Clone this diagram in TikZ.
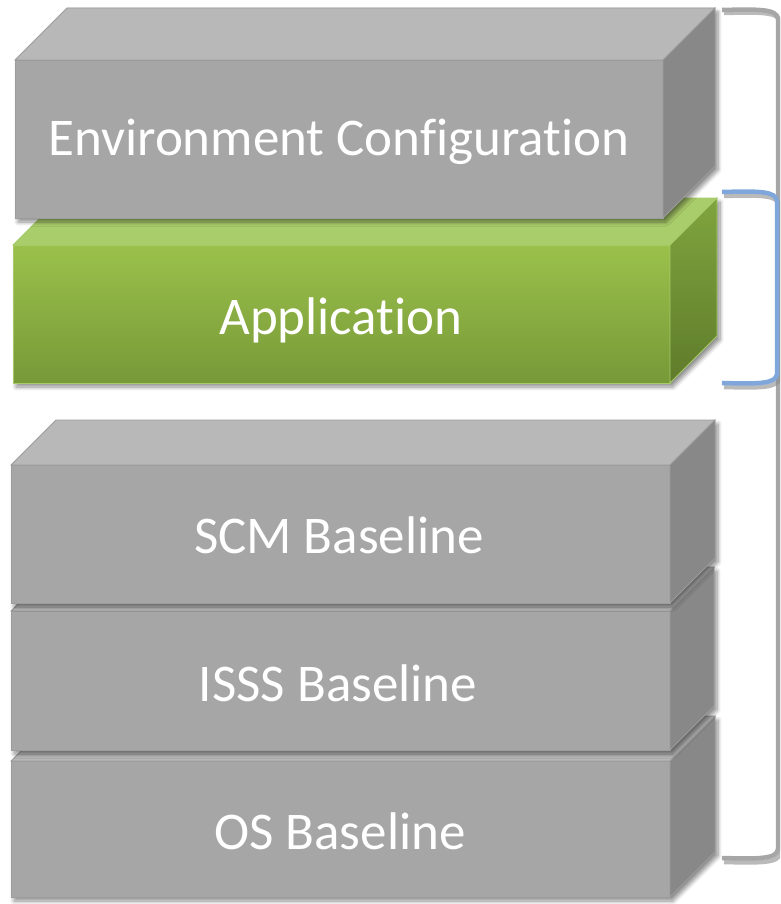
\documentclass[tikz,border=0pt]{standalone}
\usepackage{fontspec}
\setmainfont{Carlito}[Ligatures={NoCommon}]
\usetikzlibrary{shadows.blur}

\definecolor{grayfront}{HTML}{A6A6A6}
\definecolor{graytop}{HTML}{B8B8B8}
\definecolor{grayside}{HTML}{888888}
\definecolor{grayedge}{HTML}{9C9C9C}
\definecolor{greentop}{HTML}{AACD6B}
\definecolor{greenfronttop}{HTML}{9BC14B}
\definecolor{greenfrontbot}{HTML}{779938}
\definecolor{greensidetop}{HTML}{80A43E}
\definecolor{greensidebot}{HTML}{5F7C2B}
\definecolor{greenedge}{HTML}{A8CB6A}
\definecolor{bracegray}{HTML}{A6A6A6}
\definecolor{braceblue}{HTML}{7FA7DC}
\definecolor{braceshade}{HTML}{8C8C8C}

\tikzset{
  blockshadow/.style={blur shadow={shadow xshift=3pt, shadow yshift=-4pt,
      shadow blur radius=4pt, shadow blur steps=8, shadow opacity=45}},
  grayfrontface/.style={fill=grayfront, draw=grayedge, line width=0.8pt},
  graytopface/.style={fill=graytop, draw=grayedge, line width=0.8pt},
  graysideface/.style={fill=grayside, draw=grayedge, line width=0.8pt},
  greenfrontface/.style={top color=greenfronttop, bottom color=greenfrontbot,
      draw=greenedge, line width=0.8pt},
  greentopface/.style={fill=greentop, draw=greenedge, line width=0.8pt},
  greensideface/.style={top color=greensidetop, bottom color=greensidebot,
      draw=greenedge, line width=0.8pt},
  layertext/.style={text=white, font=\fontsize{53}{53}\selectfont, anchor=base},
  bracketline/.style={line width=4.5pt, line cap=butt, line join=round},
  bracketshade/.style={line width=4.5pt, line cap=butt, draw=braceshade,
      opacity=0.6},
}

% A box seen from the front-right: #1,#2 = front top-left, #3,#4 = front
% bottom-right, #5 = depth, #6/#7/#8 = front/top/side face styles
\newcommand\cuboid[8]{%
  \path[blockshadow, fill=grayfront]
    (#1,#2) -- ({#1+#5},{#2-#5}) -- ({#3+#5},{#2-#5}) --
    ({#3+#5},{#4-#5}) -- (#3,#4) -- (#1,#4) -- cycle;
  \path[#6] (#1,#2) rectangle (#3,#4);
  \path[#7] (#1,#2) -- ({#1+#5},{#2-#5}) -- ({#3+#5},{#2-#5}) -- (#3,#2) -- cycle;
  \path[#8] (#3,#2) -- ({#3+#5},{#2-#5}) -- ({#3+#5},{#4-#5}) -- (#3,#4) -- cycle;
}

% A right square bracket: #1 = left end x, #2 = spine x, #3 = top y,
% #4 = bottom y, #5 = style
\newcommand\sqbracket[5]{%
  \draw[#5] (#1,#3) .. controls ({#2-18},{#3-1}) and ({#2-1},{#3-1}) .. (#2,{#3+9})
    -- (#2,{#4-9}) .. controls ({#2-1},{#4+1}) and ({#2-18},{#4+1}) .. (#1,#4);
}

\begin{document}
\begin{tikzpicture}[x=1pt, y=-1pt]
  \useasboundingbox (0,0) rectangle (780,904);
  \clip (0,0) rectangle (780,904);

  % lower stack, drawn from the bottom up
  \cuboid{11}{761}{670}{897}{45}{grayfrontface}{graytopface}{graysideface}
  \node[layertext] (os) at (340,849) {OS Baseline};
  \cuboid{11}{611}{670}{750}{44}{grayfrontface}{graytopface}{graysideface}
  \node[layertext] (isss) at (338,701) {ISSS Baseline};
  \cuboid{11}{465}{670}{603}{45}{grayfrontface}{graytopface}{graysideface}
  \node[layertext] (scm) at (339,553) {SCM Baseline};

  % application layer
  \cuboid{13}{245}{670}{383}{47}{greenfrontface}{greentopface}{greensideface}
  \node[layertext] (app) at (341,334) {Application};

  % environment layer on top
  \cuboid{15}{60}{663}{218}{52}{grayfrontface}{graytopface}{graysideface}
  \node[layertext] (env) at (339,156) {Environment Configuration};

  % gray bracket over the whole stack, shade first
  \sqbracket{724}{780}{13}{862}{bracketshade}
  \sqbracket{722}{778}{10}{858}{bracketline, draw=bracegray}
  % blue bracket beside the application layer, shade first
  \sqbracket{724}{779}{196}{387}{bracketshade}
  \sqbracket{722}{777}{192}{383}{bracketline, draw=braceblue}
\end{tikzpicture}
\end{document}
